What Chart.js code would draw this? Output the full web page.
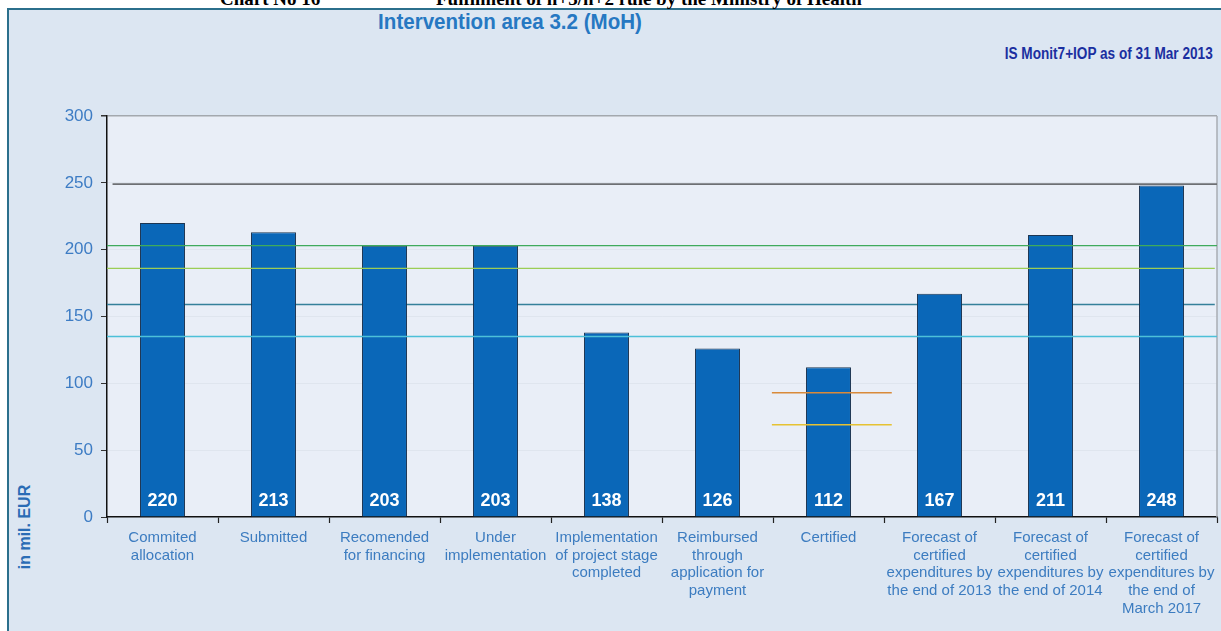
<!DOCTYPE html>
<html>
<head>
<meta charset="utf-8">
<script src="https://cdn.jsdelivr.net/npm/chart.js@4.4.0/dist/chart.umd.min.js"></script>
<style>
html,body{margin:0;padding:0;background:#ffffff;width:1221px;height:631px;overflow:hidden;}
#box{position:absolute;left:7px;top:8px;width:1240px;height:650px;background:#dce6f2;border-left:2px solid #2b6f8c;border-top:2px solid #2b6f8c;}
#heading{position:absolute;top:-12px;left:0;width:1221px;height:20px;font:bold 19px "Liberation Serif","Times New Roman",serif;color:#000;white-space:nowrap;}
#heading span{position:absolute;top:0;}
#title{position:absolute;left:310px;width:400px;top:9px;text-align:center;font:bold 22px "Liberation Sans",Arial,sans-serif;color:#2678c2;white-space:nowrap;transform:scaleX(0.934);transform-origin:center;}
#subtitle{position:absolute;right:8px;top:45px;text-align:right;font:bold 16px "Liberation Sans",Arial,sans-serif;color:#1b2fa0;white-space:nowrap;transform:scaleX(0.85);transform-origin:right center;}
#ytitle{position:absolute;left:-35px;top:517px;width:120px;height:20px;text-align:center;transform:rotate(-90deg);font:bold 16px "Liberation Sans",Arial,sans-serif;color:#2a6cb5;white-space:nowrap;line-height:20px;}
#wrap{position:absolute;left:0;top:0;width:1221px;height:631px;}
</style>
</head>
<body>
<div id="box"></div>
<div id="heading"><span style="left:220px">Chart No 16</span><span style="left:436px">Fulfilment of n+3/n+2 rule by the Ministry of Health</span></div>
<div id="title">Intervention area 3.2 (MoH)</div>
<div id="subtitle">IS Monit7+IOP as of 31 Mar 2013</div>
<div id="ytitle">in mil. EUR</div>
<div id="wrap"><canvas id="c" width="1221" height="631"></canvas></div>
<script>
// ---- data ----
const categories = [
  ["Commited", "allocation"],
  "Submitted",
  ["Recomended", "for financing"],
  ["Under", "implementation"],
  ["Implementation", "of project stage", "completed"],
  ["Reimbursed", "through", "application for", "payment"],
  "Certified",
  ["Forecast of", "certified", "expenditures by", "the end of 2013"],
  ["Forecast of", "certified", "expenditures by", "the end of 2014"],
  ["Forecast of", "certified", "expenditures by", "the end of", "March 2017"]
];
const values = [220, 213, 203, 203, 138, 126, 112, 167, 211, 248];
const yTickValues = [0, 50, 100, 150, 200, 250, 300];
// reference levels spanning the whole chart
const levelNames = ["total", "green", "lightgreen", "teal", "cyan"];
const levelValues = [249, 203, 186, 159, 135];
// short reference levels at the "Certified" category
const certNames = ["orange", "yellow"];
const certValues = [93, 69];

// ---- styles (kept separate from data) ----
const levelStyle = {
  total:      {color: "#6d6f73", width: 1.6, order: 1, from: -0.45, to: 9.5},
  green:      {color: "#3faa5c", width: 1.4, order: 1, from: -0.5, to: 9.5},
  lightgreen: {color: "#9ccd55", width: 1.4, order: 1, from: -0.5, to: 9.48},
  teal:       {color: "#35809a", width: 1.4, order: 3, from: -0.5, to: 9.48},
  cyan:       {color: "#4cc0d8", width: 1.4, order: 1, from: -0.5, to: 9.5}
};
const certStyle = {
  orange: {color: "#d98a3a", width: 1.4, from: 5.49, to: 6.57},
  yellow: {color: "#e6c233", width: 1.4, from: 5.49, to: 6.57}
};

const datasets = [{
  type: "bar",
  data: values,
  backgroundColor: "#0a67b8",
  borderColor: "#1c3552",
  borderWidth: 1,
  borderSkipped: "bottom",
  grouped: false,
  categoryPercentage: 1,
  barPercentage: 0.405,
  xAxisID: "x",
  order: 2
}];
levelNames.forEach((n, i) => {
  const s = levelStyle[n];
  datasets.push({
    type: "line",
    data: [{x: s.from, y: levelValues[i]}, {x: s.to, y: levelValues[i]}],
    borderColor: s.color, borderWidth: s.width, pointRadius: 0,
    xAxisID: "x2", order: s.order, fill: false
  });
});
certNames.forEach((n, i) => {
  const s = certStyle[n];
  datasets.push({
    type: "line",
    data: [{x: s.from, y: certValues[i]}, {x: s.to, y: certValues[i]}],
    borderColor: s.color, borderWidth: s.width, pointRadius: 0,
    xAxisID: "x2", order: 1, fill: false
  });
});

const plotBg = {
  id: "plotBg",
  beforeDatasetsDraw(chart) {
    const {ctx, chartArea: a} = chart;
    ctx.save();
    ctx.strokeStyle = "#a9adb3";
    ctx.lineWidth = 1.5;
    ctx.beginPath();
    ctx.moveTo(a.right, a.top);
    ctx.lineTo(a.right, a.bottom);
    ctx.stroke();
    ctx.restore();
  },
  beforeDraw(chart) {
    const {ctx, chartArea: a} = chart;
    ctx.save();
    ctx.fillStyle = "#e9eef7";
    ctx.fillRect(a.left, a.top, a.right - a.left, a.bottom - a.top);
    ctx.restore();
  }
};

const valueLabels = {
  id: "valueLabels",
  afterDatasetsDraw(chart) {
    const {ctx, chartArea: a} = chart;
    const meta = chart.getDatasetMeta(0);
    ctx.save();
    ctx.fillStyle = "#ffffff";
    ctx.font = "bold 18px 'Liberation Sans', Arial, sans-serif";
    ctx.textAlign = "center";
    ctx.textBaseline = "middle";
    meta.data.forEach((el, i) => {
      ctx.fillText(String(values[i]), el.x, a.bottom - 16);
    });
    ctx.restore();
  }
};

new Chart(document.getElementById("c"), {
  data: {labels: categories, datasets},
  options: {
    responsive: false,
    animation: false,
    events: [],
    layout: {padding: {top: 116, right: 4, left: 0, bottom: 0}},
    plugins: {legend: {display: false}, tooltip: {enabled: false}, title: {display: false}},
    scales: {
      x: {
        type: "category",
        offset: true,
        grid: {display: true, drawOnChartArea: false, offset: true, tickLength: 6, tickColor: "#222", tickWidth: 1.2},
        border: {display: true, color: "#111", width: 1.5},
        ticks: {
          color: "#3c7cc0", maxRotation: 0, autoSkip: false, padding: 6,
          font: {family: "'Liberation Sans', Arial, sans-serif", size: 15, lineHeight: 1.18}
        },
        afterFit(scale) { scale.height = 114; }
      },
      x2: {type: "linear", display: false, min: -0.5, max: 9.5},
      y: {
        min: yTickValues[0],
        max: yTickValues[yTickValues.length - 1],
        afterBuildTicks(scale) { scale.ticks = yTickValues.map(v => ({value: v})); },
        grid: {
          color: ctx => ctx.tick && ctx.tick.value === 300 ? "#a3a8ae" : (ctx.tick && ctx.tick.value === 0 ? "rgba(0,0,0,0)" : "#dfe5ee"),
          lineWidth: ctx => ctx.tick && ctx.tick.value === 300 ? 1.5 : 1,
          tickColor: "#333", tickLength: 6
        },
        border: {display: true, color: "#111", width: 1.5},
        ticks: {
          color: "#3d7cc4", padding: 8,
          font: {family: "'Liberation Sans', Arial, sans-serif", size: 17}
        },
        afterFit(scale) { scale.width = 107; }
      }
    }
  },
  plugins: [plotBg, valueLabels]
});
</script>
</body>
</html>
